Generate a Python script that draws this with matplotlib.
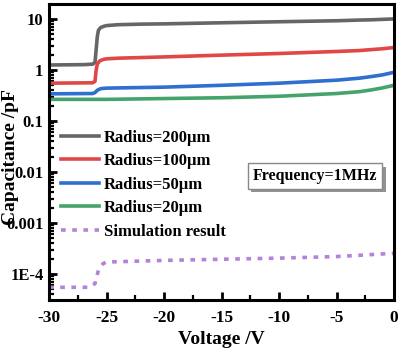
import matplotlib
matplotlib.use("Agg")
import matplotlib.pyplot as plt
from matplotlib.ticker import LogLocator, FixedLocator, MultipleLocator
import matplotlib.patheffects as pe

plt.rcParams['font.family'] = ['Liberation Serif', 'DejaVu Serif']
plt.rcParams['font.weight'] = 'bold'
plt.rcParams['mathtext.default'] = 'regular'

v200 = [-30, -27, -26.2, -26.0, -25.9, -25.8, -25.7, -25.5, -25.2, -25, -24, -22, -20, -15, -10, -5, -3, -2, -1, 0]
c200 = [1.25, 1.27, 1.3, 1.4, 2.5, 4.5, 6.0, 6.8, 7.2, 7.4, 7.7, 7.9, 8.0, 8.4, 8.8, 9.2, 9.5, 9.6, 9.8, 10.0]

v100 = [-30, -26.2, -26.0, -25.9, -25.8, -25.6, -25.3, -25, -24, -20, -15, -10, -5, -3, -2, -1, 0]
c100 = [0.55, 0.56, 0.6, 1.0, 1.3, 1.5, 1.6, 1.65, 1.7, 1.8, 1.95, 2.1, 2.3, 2.4, 2.5, 2.6, 2.75]

v50 = [-30, -26.2, -26.0, -25.8, -25.5, -25, -20, -15, -10, -5, -3, -2, -1, 0]
c50 = [0.34, 0.345, 0.36, 0.4, 0.43, 0.44, 0.46, 0.5, 0.55, 0.63, 0.69, 0.74, 0.8, 0.9]

v20 = [-30, -25, -20, -15, -10, -5, -3, -2, -1, 0]
c20 = [0.265, 0.265, 0.275, 0.285, 0.305, 0.345, 0.375, 0.405, 0.445, 0.5]

vsim = [-30, -26.5, -26.0, -25.7, -25.3, -25, -20, -15, -10, -5, 0]
csim = [5.5e-5, 5.5e-5, 6.5e-5, 1.2e-4, 1.6e-4, 1.72e-4, 1.85e-4, 1.95e-4, 2.05e-4, 2.2e-4, 2.55e-4]

labels = ['Radius=200\u03bcm', 'Radius=100\u03bcm', 'Radius=50\u03bcm', 'Radius=20\u03bcm', 'Simulation result']
colors = ['#666666', '#e04848', '#2f6fd0', '#45a46c', '#b483d8']

xticks = [-30, -25, -20, -15, -10, -5, 0]
xticklabels = ['-30', '-25', '-20', '-15', '-10', '-5', '0']
yticks = [1e-4, 1e-3, 1e-2, 1e-1, 1, 10]
yticklabels = ['1E-4', '0.001', '0.01', '0.1', '1', '10']

fig = plt.figure(figsize=(4.02, 3.51), dpi=100)
ax = fig.add_axes([49/402, 51/351, 345/402, 296/351])

ax.plot(v200, c200, color=colors[0], lw=2.6, label=labels[0])
ax.plot(v100, c100, color=colors[1], lw=2.6, label=labels[1])
ax.plot(v50, c50, color=colors[2], lw=2.6, label=labels[2])
ax.plot(v20, c20, color=colors[3], lw=2.6, label=labels[3])
ax.plot(vsim, csim, color=colors[4], lw=2.6, linestyle=(0, (1.3, 1.8)), label=labels[4])

ax.set_yscale('log')
ax.set_xlim(-30, 0)
ax.set_ylim(3.1e-5, 19.6)
ax.yaxis.set_major_locator(FixedLocator(yticks))
ax.set_yticklabels(yticklabels)
ax.yaxis.set_minor_locator(LogLocator(base=10, subs=[2, 3, 4, 5, 6, 7, 8, 9], numticks=20))
ax.yaxis.set_minor_formatter(plt.NullFormatter())
ax.set_xticks(xticks)
ax.set_xticklabels(xticklabels)
ax.xaxis.set_minor_locator(MultipleLocator(2.5))

ax.tick_params(which='major', direction='in', length=6, width=2, labelsize=12, pad=4)
ax.tick_params(axis='x', which='major', pad=7, labelsize=12.5)
ax.tick_params(which='minor', direction='in', length=3.5, width=1.6)
for lab in ax.get_xticklabels() + ax.get_yticklabels():
    lab.set_fontweight('bold')
for s in ax.spines.values():
    s.set_linewidth(2.2)

ax.set_xlabel('Voltage /V', fontsize=14, fontweight='bold', labelpad=4)
ax.set_ylabel('Capacitance /pF', fontsize=14, fontweight='bold')
ax.yaxis.set_label_coords(-0.088, 0.483)

leg = ax.legend(loc='upper left', bbox_to_anchor=(0.0, 0.615), frameon=False,
                prop={'weight': 'bold', 'size': 12}, handlelength=2.3,
                handletextpad=0.3, labelspacing=0.45, borderaxespad=0.3)

ax.text(0.771, 0.419, 'Frequency=1MHz', transform=ax.transAxes, ha='center', va='center',
        fontsize=11.5, fontweight='bold',
        bbox=dict(boxstyle='square,pad=0.3', fc='white', ec='#888888', lw=1.0,
                  path_effects=[pe.withSimplePatchShadow(offset=(2.5, -2.5), shadow_rgbFace='#777777', alpha=0.8)]))

fig.savefig('out.png', dpi=100)
